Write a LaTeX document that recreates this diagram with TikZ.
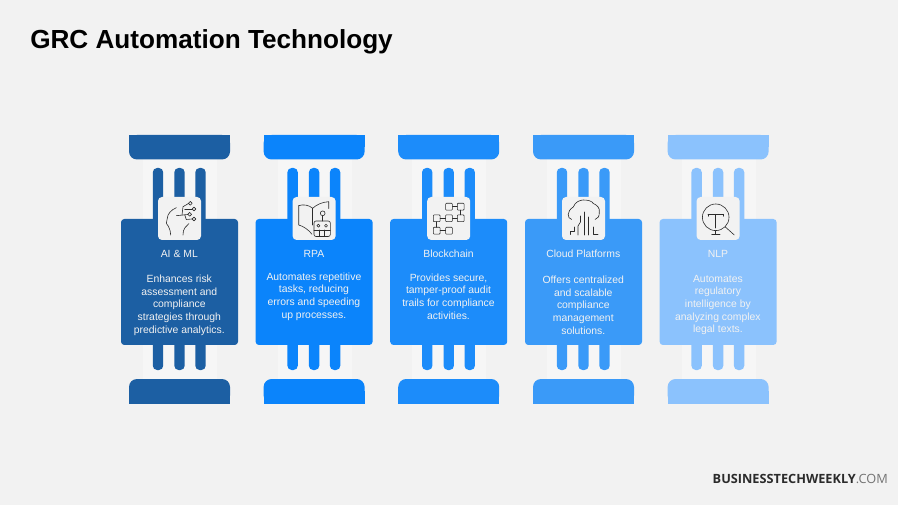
\documentclass[tikz,border=0pt]{standalone}
\usepackage{fontspec}
\setmainfont{Liberation Sans}
\newfontfamily\logofont{Open Sans}
\definecolor{bgc}{HTML}{F2F2F2}
\definecolor{bandc}{HTML}{F6F6F6}
\definecolor{colA}{HTML}{1C5FA3}
\definecolor{colB}{HTML}{0B84FB}
\definecolor{colC}{HTML}{1C8CFA}
\definecolor{colD}{HTML}{3A9AF8}
\definecolor{colE}{HTML}{8BC2FD}
\definecolor{inkc}{HTML}{2B2B2B}
\tikzset{
  x=0.75pt,y=-0.75pt,
  band/.style={fill=bandc,draw=none},
  iconbox/.style={fill=bgc,draw=none,rounded corners=3pt},
  cardtitle/.style={text=bgc,font=\fontsize{7.8pt}{9.5pt}\selectfont,anchor=center,align=center},
  cardbody/.style={text=bgc,font=\fontsize{7.8pt}{9.5pt}\selectfont,anchor=center,align=center},
  iconline/.style={draw=inkc,line width=0.45pt,fill=none,line cap=round,line join=round},
}
\newcommand{\pillar}[6]{%
 % #1 x shift, #2 colour, #3 name, #4 title, #5 body, #6 body centre y
 \begin{scope}[xshift=#1*0.75pt]
  \fill[band] (143,159) rectangle (217,379);
  \foreach \cx in {158,179.5,200.5}{
    \fill[#2,rounded corners=3.2pt] (\cx-5.2,225) rectangle (\cx+5.2,168);
    \fill[#2,rounded corners=3.2pt] (\cx-5.2,335) rectangle (\cx+5.2,370);
  }
  \fill[#2,rounded corners=6pt] (129,135) rectangle (230,159.5);
  \fill[#2] (129,135) rectangle (230,147);
  \fill[#2,rounded corners=6pt] (129,379) rectangle (230,403.5);
  \fill[#2] (129,391) rectangle (230,403.5);
  \fill[#2,rounded corners=2.5pt] (121,219) rectangle (238,345);
  \fill[iconbox] (158,197) rectangle (201,240);
  \node[cardtitle] (#3title) at (179.3,254) {#4};
  \node[cardbody] (#3body) at (179.3,#6) {#5};
 \end{scope}}
\begin{document}
\begin{tikzpicture}
\useasboundingbox (0,0) rectangle (898,505);
\fill[bgc] (0,0) rectangle (898,505);
\node[anchor=base west,inner sep=0pt,font=\bfseries\fontsize{19.6pt}{22pt}\selectfont,text=black] (title) at (30,49) {GRC Automation Technology};

\pillar{0}{colA}{a}{AI \& ML}{Enhances risk\\assessment and\\compliance\\strategies through\\predictive analytics.}{305}
\pillar{134.6}{colB}{b}{RPA}{Automates repetitive\\tasks, reducing\\errors and speeding\\up processes.}{296.5}
\pillar{269.2}{colC}{c}{Blockchain}{Provides secure,\\tamper-proof audit\\trails for compliance\\activities.}{296.5}
\pillar{404}{colD}{d}{Cloud Platforms}{Offers centralized\\and scalable\\compliance\\management\\solutions.}{305}
\pillar{538.6}{colE}{e}{NLP}{Automates\\regulatory\\intelligence by\\analyzing complex\\legal texts.}{305}

% icon 1: head with circuit
\draw[iconline] (176.3,207.7) .. controls (171,210) and (167.5,214) .. (167.3,218.3) -- (166.3,223.3) -- (168.5,226.5) .. controls (170,229) and (170.5,232) .. (170.7,235);
\draw[iconline] (183,235) .. controls (183,232) and (183.5,230) .. (184.7,228) -- (189,223.5);
\draw[iconline] (176.3,215.7) -- (187.7,214.5);
\draw[iconline] (182,215) -- (183,206.7) -- (188.5,203.5);
\draw[iconline] (184.7,209) -- (192,209);
\draw[iconline] (184.7,214.8) -- (186.3,219.5) -- (192,219);
\foreach \p in {(190.3,203.3),(194,209),(189.7,214.3),(194,219)}{\draw[iconline] \p circle[radius=1.9];}

% icon 2: book and robot
\draw[iconline] (298.7,205.7) .. controls (303,204) and (309,205) .. (312.7,208.3) .. controls (316,205) and (322,202) .. (328.7,201.7) -- (328.7,208.5);
\draw[iconline] (298.7,205.7) -- (298.7,225) .. controls (303,226) and (309,230) .. (312,234.3);
\draw[iconline] (312.7,208.3) -- (312.7,225);
\draw[iconline,rounded corners=1.5pt] (314,221) rectangle (330.3,236.5);
\draw[iconline] (314,230) -- (330.3,230) (319.7,230) -- (319.7,236.5) (324.7,230) -- (324.7,236.5) (322.7,215.8) -- (322.7,221);
\draw[iconline] (322.7,213.3) circle[radius=2.4];
\draw[iconline] (318.4,225.7) circle[radius=1.5] (326,225.7) circle[radius=1.5];

% icon 3: block chain
\foreach \p in {(449,206.7),(460.7,206.7),(436.7,218.3),(449,218.3),(460.7,218.3),(436.7,230.7),(449,230.7)}{
  \draw[iconline,rounded corners=0.6pt] \p ++(-3.4,-3.4) rectangle ++(6.8,6.8);}
\draw[iconline] (452.4,206.7) -- (457.3,206.7) (440.1,218.3) -- (445.6,218.3) (452.4,218.3) -- (457.3,218.3) (440.1,230.7) -- (445.6,230.7) (460.7,210.1) -- (460.7,214.9) (436.7,221.7) -- (436.7,227.3);

% icon 4: cloud with circuit
\draw[iconline] (571.7,219.5) .. controls (567,218.5) and (566.5,211) .. (573.3,207) .. controls (575,202) and (580,200) .. (583.3,200) .. controls (588,200) and (592,201) .. (593.3,203.5) .. controls (597,205) and (600,208) .. (599.3,212) .. controls (599.5,216) and (598,219) .. (595,219.5);
\draw[iconline] (570,234.5) -- (570,231) -- (574,231) -- (574,227);
\draw[iconline] (578,235) -- (578,226) -- (580.5,222) -- (580.5,216);
\draw[iconline] (584,235) -- (584,212);
\draw[iconline] (588,235) -- (588,217);
\draw[iconline] (593,227) -- (593,234) -- (598,234);

% icon 5: magnifier with T
\draw[iconline] (715.7,217.3) circle[radius=13.3];
\draw[iconline] (708,214.3) -- (723.5,214.3) (715.7,214.3) -- (715.7,228);
\draw[iconline] (708,214.3) -- (708,216.3) (723.5,214.3) -- (723.5,216.3);
\draw[iconline] (725,226.7) -- (734.3,235);
\draw[iconline] (715.7,230.7) -- (715.7,234.3) (711.7,234.5) -- (720,234.5);

\node[anchor=base east,inner sep=0pt,font=\logofont\fontsize{9.55pt}{11pt}\selectfont] (logo) at (888,483) {\textcolor{inkc}{\bfseries BUSINESSTECHWEEKLY}\textcolor{black!55}{.COM}};
\end{tikzpicture}
\end{document}
